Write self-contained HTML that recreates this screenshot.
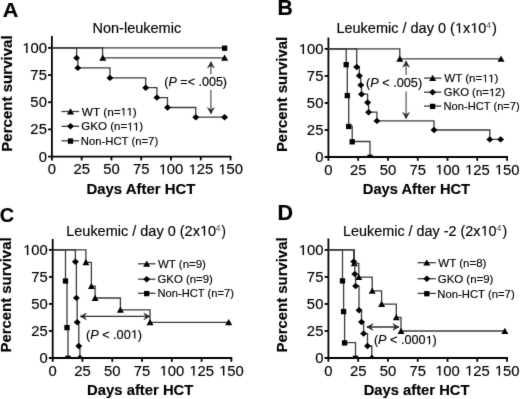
<!DOCTYPE html>
<html><head><meta charset="utf-8"><style>
html,body{margin:0;padding:0;background:#fff;}
body{width:520px;height:399px;overflow:hidden;}
svg{display:block;}
text{font-family:"Liberation Sans", sans-serif;stroke:#000;stroke-width:0.15px;}
.h1{fill-opacity:0;stroke-opacity:0;}
</style></head><body>
<svg width="520" height="399" viewBox="0 0 520 399">
<defs><clipPath id="cp0"><rect x="0" y="0" width="520" height="157.00"/></clipPath><clipPath id="cp1"><rect x="0" y="0" width="520" height="358.00"/></clipPath><clipPath id="cp2"><rect x="0" y="0" width="520" height="358.00"/></clipPath><clipPath id="cp3"><rect x="0" y="0" width="520" height="358.00"/></clipPath><clipPath id="cp4"><rect x="0" y="0" width="520" height="358.00"/></clipPath><filter id="soft" x="0" y="0" width="520" height="399" filterUnits="userSpaceOnUse" color-interpolation-filters="sRGB"><feConvolveMatrix order="3" kernelMatrix="0.01 0.07 0.01 0.07 0.68 0.07 0.01 0.07 0.01" edgeMode="duplicate"/></filter></defs>
<g filter="url(#soft)">
<rect width="520" height="399" fill="#fff"/>
<line x1="51.9" y1="36" x2="51.9" y2="160.4" stroke="#000" stroke-width="1.8"/>
<line x1="48.1" y1="156.6" x2="231.45" y2="156.6" stroke="#000" stroke-width="1.8"/>
<line x1="48.1" y1="129.42" x2="51.9" y2="129.42" stroke="#000" stroke-width="1.8"/>
<line x1="48.1" y1="102.25" x2="51.9" y2="102.25" stroke="#000" stroke-width="1.8"/>
<line x1="48.1" y1="75.08" x2="51.9" y2="75.08" stroke="#000" stroke-width="1.8"/>
<line x1="48.1" y1="47.90" x2="51.9" y2="47.90" stroke="#000" stroke-width="1.8"/>
<line x1="81.67" y1="156.6" x2="81.67" y2="160.4" stroke="#000" stroke-width="1.8"/>
<line x1="111.45" y1="156.6" x2="111.45" y2="160.4" stroke="#000" stroke-width="1.8"/>
<line x1="141.22" y1="156.6" x2="141.22" y2="160.4" stroke="#000" stroke-width="1.8"/>
<line x1="171.00" y1="156.6" x2="171.00" y2="160.4" stroke="#000" stroke-width="1.8"/>
<line x1="200.78" y1="156.6" x2="200.78" y2="160.4" stroke="#000" stroke-width="1.8"/>
<line x1="230.55" y1="156.6" x2="230.55" y2="160.4" stroke="#000" stroke-width="1.8"/>
<text x="46.90" y="161.60" font-size="14" text-anchor="end" textLength="8.25" lengthAdjust="spacingAndGlyphs">0</text>
<text x="46.90" y="134.42" font-size="14" text-anchor="end" textLength="16.51" lengthAdjust="spacingAndGlyphs">25</text>
<text x="46.90" y="107.25" font-size="14" text-anchor="end" textLength="16.51" lengthAdjust="spacingAndGlyphs">50</text>
<text x="46.90" y="80.08" font-size="14" text-anchor="end" textLength="16.51" lengthAdjust="spacingAndGlyphs">75</text>
<text x="46.90" y="52.90" font-size="14" text-anchor="end" textLength="24.76" lengthAdjust="spacingAndGlyphs"><tspan class="h1">1</tspan>00</text>
<text x="51.90" y="174.20" font-size="14" text-anchor="middle" textLength="8.25" lengthAdjust="spacingAndGlyphs">0</text>
<text x="81.67" y="174.20" font-size="14" text-anchor="middle" textLength="16.51" lengthAdjust="spacingAndGlyphs">25</text>
<text x="111.45" y="174.20" font-size="14" text-anchor="middle" textLength="16.51" lengthAdjust="spacingAndGlyphs">50</text>
<text x="141.22" y="174.20" font-size="14" text-anchor="middle" textLength="16.51" lengthAdjust="spacingAndGlyphs">75</text>
<text x="171.00" y="174.20" font-size="14" text-anchor="middle" textLength="24.76" lengthAdjust="spacingAndGlyphs"><tspan class="h1">1</tspan>00</text>
<text x="200.78" y="174.20" font-size="14" text-anchor="middle" textLength="24.76" lengthAdjust="spacingAndGlyphs"><tspan class="h1">1</tspan>25</text>
<text x="230.55" y="174.20" font-size="14" text-anchor="middle" textLength="24.76" lengthAdjust="spacingAndGlyphs"><tspan class="h1">1</tspan>50</text>
<path d="M51.90,47.90 L224.60,47.90" fill="none" stroke="#3c3c3c" stroke-width="1.3" stroke-linejoin="miter"/>
<rect x="221.95" y="45.55" width="5.3" height="5.3" fill="#000"/>
<path d="M51.90,47.90 L102.60,47.90 L102.60,57.80 L224.60,57.80" fill="none" stroke="#3c3c3c" stroke-width="1.3" stroke-linejoin="miter"/>
<path d="M102.80,54.50 L106.30,60.70 L99.30,60.70 Z" fill="#000"/>
<path d="M224.60,54.50 L228.10,60.70 L221.10,60.70 Z" fill="#000"/>
<path d="M51.90,47.90 L76.60,47.90 L76.60,57.90 L77.80,57.90 L77.80,67.90 L109.90,67.90 L109.90,77.90 L145.70,77.90 L145.70,87.70 L156.90,87.70 L156.90,97.60 L167.50,97.60 L167.50,107.50 L195.80,107.50 L195.80,117.20 L224.60,117.20" fill="none" stroke="#3c3c3c" stroke-width="1.3" stroke-linejoin="miter"/>
<path d="M76.60,54.70 L80.10,57.90 L76.60,61.10 L73.10,57.90 Z" fill="#000"/>
<path d="M77.80,64.70 L81.30,67.90 L77.80,71.10 L74.30,67.90 Z" fill="#000"/>
<path d="M109.90,74.70 L113.40,77.90 L109.90,81.10 L106.40,77.90 Z" fill="#000"/>
<path d="M145.70,84.50 L149.20,87.70 L145.70,90.90 L142.20,87.70 Z" fill="#000"/>
<path d="M156.90,94.40 L160.40,97.60 L156.90,100.80 L153.40,97.60 Z" fill="#000"/>
<path d="M167.50,104.30 L171.00,107.50 L167.50,110.70 L164.00,107.50 Z" fill="#000"/>
<path d="M195.80,114.00 L199.30,117.20 L195.80,120.40 L192.30,117.20 Z" fill="#000"/>
<path d="M224.60,114.00 L228.10,117.20 L224.60,120.40 L221.10,117.20 Z" fill="#000"/>
<line x1="210.9" y1="61.7" x2="210.9" y2="74.3" stroke="#555" stroke-width="1.2"/>
<path d="M210.90,61.70 L207.50,67.90 L210.90,65.70 L214.30,67.90 Z" fill="#2a2a2a" stroke="#2a2a2a" stroke-width="0.5" stroke-linejoin="round"/>
<line x1="210.9" y1="113.8" x2="210.9" y2="90" stroke="#555" stroke-width="1.2"/>
<path d="M210.90,113.80 L214.30,107.60 L210.90,109.80 L207.50,107.60 Z" fill="#2a2a2a" stroke="#2a2a2a" stroke-width="0.5" stroke-linejoin="round"/>
<text x="164.32" y="86.40" font-size="12" textLength="62.73" lengthAdjust="spacingAndGlyphs">(<tspan font-style="italic">P</tspan> =&lt; .005)</text>
<line x1="61.5" y1="111.5" x2="79.1" y2="111.5" stroke="#3c3c3c" stroke-width="1.3"/>
<path d="M70.50,108.20 L74.00,114.40 L67.00,114.40 Z" fill="#000"/>
<text x="81.80" y="115.60" font-size="11" textLength="55.00" lengthAdjust="spacingAndGlyphs">WT (n=<tspan class="h1">1</tspan><tspan class="h1">1</tspan>)</text>
<line x1="61.5" y1="126.3" x2="79.1" y2="126.3" stroke="#3c3c3c" stroke-width="1.3"/>
<path d="M70.50,123.10 L74.00,126.30 L70.50,129.50 L67.00,126.30 Z" fill="#000"/>
<text x="81.27" y="130.40" font-size="11" textLength="61.90" lengthAdjust="spacingAndGlyphs">GKO (n=<tspan class="h1">1</tspan><tspan class="h1">1</tspan>)</text>
<line x1="61.5" y1="140.8" x2="79.1" y2="140.8" stroke="#3c3c3c" stroke-width="1.3"/>
<rect x="67.85" y="138.45" width="5.3" height="5.3" fill="#000"/>
<text x="80.77" y="144.90" font-size="11" textLength="77.39" lengthAdjust="spacingAndGlyphs">Non-HCT (n=7)</text>
<text x="92.51" y="32.70" font-size="14" textLength="88.65" lengthAdjust="spacingAndGlyphs">Non-leukemic</text>
<text transform="translate(12.00,151.80) rotate(-90)" x="0" y="0" font-size="15" font-weight="bold" textLength="116.47" lengthAdjust="spacingAndGlyphs">Percent survival</text>
<text x="86.40" y="193.50" font-size="15" font-weight="bold" textLength="109.01" lengthAdjust="spacingAndGlyphs">Days After HCT</text>
<text x="2.89" y="17.20" font-size="21" font-weight="bold" textLength="15.61" lengthAdjust="spacingAndGlyphs">A</text>
<line x1="328.4" y1="37.5" x2="328.4" y2="160.8" stroke="#000" stroke-width="1.8"/>
<line x1="324.59999999999997" y1="157.0" x2="507.95" y2="157.0" stroke="#000" stroke-width="1.8"/>
<line x1="324.59999999999997" y1="129.97" x2="328.4" y2="129.97" stroke="#000" stroke-width="1.8"/>
<line x1="324.59999999999997" y1="102.95" x2="328.4" y2="102.95" stroke="#000" stroke-width="1.8"/>
<line x1="324.59999999999997" y1="75.92" x2="328.4" y2="75.92" stroke="#000" stroke-width="1.8"/>
<line x1="324.59999999999997" y1="48.90" x2="328.4" y2="48.90" stroke="#000" stroke-width="1.8"/>
<line x1="358.17" y1="157.0" x2="358.17" y2="160.8" stroke="#000" stroke-width="1.8"/>
<line x1="387.95" y1="157.0" x2="387.95" y2="160.8" stroke="#000" stroke-width="1.8"/>
<line x1="417.72" y1="157.0" x2="417.72" y2="160.8" stroke="#000" stroke-width="1.8"/>
<line x1="447.50" y1="157.0" x2="447.50" y2="160.8" stroke="#000" stroke-width="1.8"/>
<line x1="477.27" y1="157.0" x2="477.27" y2="160.8" stroke="#000" stroke-width="1.8"/>
<line x1="507.05" y1="157.0" x2="507.05" y2="160.8" stroke="#000" stroke-width="1.8"/>
<text x="323.40" y="162.00" font-size="14" text-anchor="end" textLength="8.25" lengthAdjust="spacingAndGlyphs">0</text>
<text x="323.40" y="134.97" font-size="14" text-anchor="end" textLength="16.51" lengthAdjust="spacingAndGlyphs">25</text>
<text x="323.40" y="107.95" font-size="14" text-anchor="end" textLength="16.51" lengthAdjust="spacingAndGlyphs">50</text>
<text x="323.40" y="80.92" font-size="14" text-anchor="end" textLength="16.51" lengthAdjust="spacingAndGlyphs">75</text>
<text x="323.40" y="53.90" font-size="14" text-anchor="end" textLength="24.76" lengthAdjust="spacingAndGlyphs"><tspan class="h1">1</tspan>00</text>
<text x="328.40" y="174.60" font-size="14" text-anchor="middle" textLength="8.25" lengthAdjust="spacingAndGlyphs">0</text>
<text x="358.17" y="174.60" font-size="14" text-anchor="middle" textLength="16.51" lengthAdjust="spacingAndGlyphs">25</text>
<text x="387.95" y="174.60" font-size="14" text-anchor="middle" textLength="16.51" lengthAdjust="spacingAndGlyphs">50</text>
<text x="417.72" y="174.60" font-size="14" text-anchor="middle" textLength="16.51" lengthAdjust="spacingAndGlyphs">75</text>
<text x="447.50" y="174.60" font-size="14" text-anchor="middle" textLength="24.76" lengthAdjust="spacingAndGlyphs"><tspan class="h1">1</tspan>00</text>
<text x="477.27" y="174.60" font-size="14" text-anchor="middle" textLength="24.76" lengthAdjust="spacingAndGlyphs"><tspan class="h1">1</tspan>25</text>
<text x="507.05" y="174.60" font-size="14" text-anchor="middle" textLength="24.76" lengthAdjust="spacingAndGlyphs"><tspan class="h1">1</tspan>50</text>
<path d="M328.40,48.90 L399.80,48.90 L399.80,58.80 L501.00,58.80" fill="none" stroke="#3c3c3c" stroke-width="1.3" stroke-linejoin="miter"/>
<path d="M399.80,55.50 L403.30,61.70 L396.30,61.70 Z" fill="#000"/>
<path d="M501.00,55.50 L504.50,61.70 L497.50,61.70 Z" fill="#000"/>
<path d="M328.40,48.90 L356.70,48.90 L356.70,67.00 L359.30,67.00 L359.30,75.80 L360.80,75.80 L360.80,85.10 L361.50,85.10 L361.50,94.20 L367.60,94.20 L367.60,102.50 L368.60,102.50 L368.60,112.20 L376.90,112.20 L376.90,120.90 L434.00,120.90 L434.00,130.00 L489.80,130.00 L489.80,139.40 L500.60,139.40" fill="none" stroke="#3c3c3c" stroke-width="1.3" stroke-linejoin="miter"/>
<path d="M356.70,63.80 L360.20,67.00 L356.70,70.20 L353.20,67.00 Z" fill="#000"/>
<path d="M359.30,72.60 L362.80,75.80 L359.30,79.00 L355.80,75.80 Z" fill="#000"/>
<path d="M360.80,81.90 L364.30,85.10 L360.80,88.30 L357.30,85.10 Z" fill="#000"/>
<path d="M361.50,91.00 L365.00,94.20 L361.50,97.40 L358.00,94.20 Z" fill="#000"/>
<path d="M367.60,99.30 L371.10,102.50 L367.60,105.70 L364.10,102.50 Z" fill="#000"/>
<path d="M368.60,109.00 L372.10,112.20 L368.60,115.40 L365.10,112.20 Z" fill="#000"/>
<path d="M376.90,117.70 L380.40,120.90 L376.90,124.10 L373.40,120.90 Z" fill="#000"/>
<path d="M434.00,126.80 L437.50,130.00 L434.00,133.20 L430.50,130.00 Z" fill="#000"/>
<path d="M489.80,136.20 L493.30,139.40 L489.80,142.60 L486.30,139.40 Z" fill="#000"/>
<path d="M500.60,136.20 L504.10,139.40 L500.60,142.60 L497.10,139.40 Z" fill="#000"/>
<path d="M328.40,48.90 L346.20,48.90 L346.20,64.40 L347.30,64.40 L347.30,95.30 L348.70,95.30 L348.70,126.20 L352.20,126.20 L352.20,141.50 L370.00,141.50 L370.00,157.00" fill="none" stroke="#3c3c3c" stroke-width="1.3" stroke-linejoin="miter"/>
<rect x="343.55" y="62.05" width="5.3" height="5.3" fill="#000"/>
<rect x="344.65" y="92.95" width="5.3" height="5.3" fill="#000"/>
<rect x="346.05" y="123.85" width="5.3" height="5.3" fill="#000"/>
<rect x="349.55" y="139.15" width="5.3" height="5.3" fill="#000"/>
<g clip-path="url(#cp0)"><rect x="367.35" y="154.65" width="5.3" height="5.3" fill="#000"/></g>
<line x1="406.1" y1="61.0" x2="406.1" y2="75" stroke="#555" stroke-width="1.2"/>
<path d="M406.10,61.00 L402.70,67.20 L406.10,65.00 L409.50,67.20 Z" fill="#2a2a2a" stroke="#2a2a2a" stroke-width="0.5" stroke-linejoin="round"/>
<line x1="406.1" y1="118.6" x2="406.1" y2="91.5" stroke="#555" stroke-width="1.2"/>
<path d="M406.10,118.60 L409.50,112.40 L406.10,114.60 L402.70,112.40 Z" fill="#2a2a2a" stroke="#2a2a2a" stroke-width="0.5" stroke-linejoin="round"/>
<text x="366.11" y="87.20" font-size="12" textLength="56.03" lengthAdjust="spacingAndGlyphs">(<tspan font-style="italic">P</tspan> &lt; .005)</text>
<line x1="424.0" y1="78.1" x2="441.4" y2="78.1" stroke="#3c3c3c" stroke-width="1.3"/>
<path d="M432.60,74.80 L436.10,81.00 L429.10,81.00 Z" fill="#000"/>
<text x="444.20" y="82.20" font-size="11" textLength="54.09" lengthAdjust="spacingAndGlyphs">WT (n=<tspan class="h1">1</tspan><tspan class="h1">1</tspan>)</text>
<line x1="424.0" y1="92.2" x2="441.4" y2="92.2" stroke="#3c3c3c" stroke-width="1.3"/>
<path d="M432.60,89.00 L436.10,92.20 L432.60,95.40 L429.10,92.20 Z" fill="#000"/>
<text x="443.89" y="96.30" font-size="11" textLength="61.24" lengthAdjust="spacingAndGlyphs">GKO (n=<tspan class="h1">1</tspan>2)</text>
<line x1="424.0" y1="106.1" x2="441.4" y2="106.1" stroke="#3c3c3c" stroke-width="1.3"/>
<rect x="429.95" y="103.75" width="5.3" height="5.3" fill="#000"/>
<text x="443.59" y="110.20" font-size="11" textLength="76.16" lengthAdjust="spacingAndGlyphs">Non-HCT (n=7)</text>
<text x="336.41" y="32.80" font-size="14" textLength="149.91" lengthAdjust="spacingAndGlyphs">Leukemic / day 0 (<tspan class="h1">1</tspan>x<tspan class="h1">1</tspan>0</text>
<text x="486.56" y="28.40" font-size="8.5" style="fill:#666;stroke:#666" textLength="4.46" lengthAdjust="spacingAndGlyphs">4</text>
<text x="492.04" y="32.80" font-size="14" textLength="4.94" lengthAdjust="spacingAndGlyphs">)</text>
<text transform="translate(287.00,152.10) rotate(-90)" x="0" y="0" font-size="15" font-weight="bold" textLength="115.35" lengthAdjust="spacingAndGlyphs">Percent survival</text>
<text x="362.82" y="193.50" font-size="15" font-weight="bold" textLength="107.29" lengthAdjust="spacingAndGlyphs">Days After HCT</text>
<text x="277.51" y="14.70" font-size="21.4" font-weight="bold" textLength="15.33" lengthAdjust="spacingAndGlyphs">B</text>
<line x1="52.7" y1="239" x2="52.7" y2="361.8" stroke="#000" stroke-width="1.8"/>
<line x1="48.900000000000006" y1="358.0" x2="232.25" y2="358.0" stroke="#000" stroke-width="1.8"/>
<line x1="48.900000000000006" y1="330.98" x2="52.7" y2="330.98" stroke="#000" stroke-width="1.8"/>
<line x1="48.900000000000006" y1="303.95" x2="52.7" y2="303.95" stroke="#000" stroke-width="1.8"/>
<line x1="48.900000000000006" y1="276.93" x2="52.7" y2="276.93" stroke="#000" stroke-width="1.8"/>
<line x1="48.900000000000006" y1="249.90" x2="52.7" y2="249.90" stroke="#000" stroke-width="1.8"/>
<line x1="82.48" y1="358.0" x2="82.48" y2="361.8" stroke="#000" stroke-width="1.8"/>
<line x1="112.25" y1="358.0" x2="112.25" y2="361.8" stroke="#000" stroke-width="1.8"/>
<line x1="142.03" y1="358.0" x2="142.03" y2="361.8" stroke="#000" stroke-width="1.8"/>
<line x1="171.80" y1="358.0" x2="171.80" y2="361.8" stroke="#000" stroke-width="1.8"/>
<line x1="201.57" y1="358.0" x2="201.57" y2="361.8" stroke="#000" stroke-width="1.8"/>
<line x1="231.35" y1="358.0" x2="231.35" y2="361.8" stroke="#000" stroke-width="1.8"/>
<text x="47.70" y="363.00" font-size="14" text-anchor="end" textLength="8.25" lengthAdjust="spacingAndGlyphs">0</text>
<text x="47.70" y="335.98" font-size="14" text-anchor="end" textLength="16.51" lengthAdjust="spacingAndGlyphs">25</text>
<text x="47.70" y="308.95" font-size="14" text-anchor="end" textLength="16.51" lengthAdjust="spacingAndGlyphs">50</text>
<text x="47.70" y="281.93" font-size="14" text-anchor="end" textLength="16.51" lengthAdjust="spacingAndGlyphs">75</text>
<text x="47.70" y="254.90" font-size="14" text-anchor="end" textLength="24.76" lengthAdjust="spacingAndGlyphs"><tspan class="h1">1</tspan>00</text>
<text x="52.70" y="375.60" font-size="14" text-anchor="middle" textLength="8.25" lengthAdjust="spacingAndGlyphs">0</text>
<text x="82.48" y="375.60" font-size="14" text-anchor="middle" textLength="16.51" lengthAdjust="spacingAndGlyphs">25</text>
<text x="112.25" y="375.60" font-size="14" text-anchor="middle" textLength="16.51" lengthAdjust="spacingAndGlyphs">50</text>
<text x="142.03" y="375.60" font-size="14" text-anchor="middle" textLength="16.51" lengthAdjust="spacingAndGlyphs">75</text>
<text x="171.80" y="375.60" font-size="14" text-anchor="middle" textLength="24.76" lengthAdjust="spacingAndGlyphs"><tspan class="h1">1</tspan>00</text>
<text x="201.57" y="375.60" font-size="14" text-anchor="middle" textLength="24.76" lengthAdjust="spacingAndGlyphs"><tspan class="h1">1</tspan>25</text>
<text x="231.35" y="375.60" font-size="14" text-anchor="middle" textLength="24.76" lengthAdjust="spacingAndGlyphs"><tspan class="h1">1</tspan>50</text>
<path d="M52.70,249.90 L85.90,249.90 L85.90,262.40 L91.40,262.40 L91.40,286.20 L95.10,286.20 L95.10,298.00 L120.40,298.00 L120.40,309.90 L150.00,309.90 L150.00,322.30 L228.70,322.30" fill="none" stroke="#3c3c3c" stroke-width="1.3" stroke-linejoin="miter"/>
<path d="M85.90,259.10 L89.40,265.30 L82.40,265.30 Z" fill="#000"/>
<path d="M91.40,282.90 L94.90,289.10 L87.90,289.10 Z" fill="#000"/>
<path d="M95.10,294.70 L98.60,300.90 L91.60,300.90 Z" fill="#000"/>
<path d="M120.40,306.60 L123.90,312.80 L116.90,312.80 Z" fill="#000"/>
<path d="M150.00,319.00 L153.50,325.20 L146.50,325.20 Z" fill="#000"/>
<path d="M228.70,319.00 L232.20,325.20 L225.20,325.20 Z" fill="#000"/>
<path d="M52.70,249.90 L75.40,249.90 L75.40,261.80 L76.40,261.80 L76.40,297.90 L77.20,297.90 L77.20,322.20 L78.80,322.20 L78.80,346.00 L79.90,346.00 L79.90,358.00" fill="none" stroke="#3c3c3c" stroke-width="1.3" stroke-linejoin="miter"/>
<path d="M75.40,258.60 L78.90,261.80 L75.40,265.00 L71.90,261.80 Z" fill="#000"/>
<path d="M76.40,294.70 L79.90,297.90 L76.40,301.10 L72.90,297.90 Z" fill="#000"/>
<path d="M77.20,319.00 L80.70,322.20 L77.20,325.40 L73.70,322.20 Z" fill="#000"/>
<path d="M78.80,342.80 L82.30,346.00 L78.80,349.20 L75.30,346.00 Z" fill="#000"/>
<g clip-path="url(#cp1)"><path d="M79.90,354.80 L83.40,358.00 L79.90,361.20 L76.40,358.00 Z" fill="#000"/></g>
<path d="M52.70,249.90 L65.50,249.90 L65.50,280.70 L67.00,280.70 L67.00,327.30 L68.00,327.30 L68.00,358.00" fill="none" stroke="#3c3c3c" stroke-width="1.3" stroke-linejoin="miter"/>
<rect x="62.85" y="278.35" width="5.3" height="5.3" fill="#000"/>
<rect x="64.35" y="324.95" width="5.3" height="5.3" fill="#000"/>
<g clip-path="url(#cp2)"><rect x="65.35" y="355.65" width="5.3" height="5.3" fill="#000"/></g>
<line x1="80.2" y1="316.4" x2="150.0" y2="316.4" stroke="#333" stroke-width="1.4"/>
<path d="M80.20,316.40 L86.40,319.80 L84.20,316.40 L86.40,313.00 Z" fill="#2a2a2a" stroke="#2a2a2a" stroke-width="0.5" stroke-linejoin="round"/>
<path d="M150.00,316.40 L143.80,313.00 L146.00,316.40 L143.80,319.80 Z" fill="#2a2a2a" stroke="#2a2a2a" stroke-width="0.5" stroke-linejoin="round"/>
<text x="85.91" y="338.60" font-size="12" textLength="56.14" lengthAdjust="spacingAndGlyphs">(<tspan font-style="italic">P</tspan> &lt; .00<tspan class="h1">1</tspan>)</text>
<line x1="138.1" y1="263.8" x2="155.5" y2="263.8" stroke="#3c3c3c" stroke-width="1.3"/>
<path d="M146.70,260.50 L150.20,266.70 L143.20,266.70 Z" fill="#000"/>
<text x="158.00" y="267.90" font-size="11" textLength="47.93" lengthAdjust="spacingAndGlyphs">WT (n=9)</text>
<line x1="138.1" y1="279.2" x2="155.5" y2="279.2" stroke="#3c3c3c" stroke-width="1.3"/>
<path d="M146.70,276.00 L150.20,279.20 L146.70,282.40 L143.20,279.20 Z" fill="#000"/>
<text x="157.48" y="283.30" font-size="11" textLength="55.29" lengthAdjust="spacingAndGlyphs">GKO (n=9)</text>
<line x1="138.1" y1="293.3" x2="155.5" y2="293.3" stroke="#3c3c3c" stroke-width="1.3"/>
<rect x="144.05" y="290.95" width="5.3" height="5.3" fill="#000"/>
<text x="157.48" y="297.40" font-size="11" textLength="76.57" lengthAdjust="spacingAndGlyphs">Non-HCT (n=7)</text>
<text x="66.21" y="235.60" font-size="14" textLength="149.81" lengthAdjust="spacingAndGlyphs">Leukemic / day 0 (2x<tspan class="h1">1</tspan>0</text>
<text x="215.75" y="231.20" font-size="8.5" style="fill:#666;stroke:#666" textLength="4.68" lengthAdjust="spacingAndGlyphs">4</text>
<text x="221.56" y="235.60" font-size="14" textLength="4.40" lengthAdjust="spacingAndGlyphs">)</text>
<text transform="translate(11.20,352.49) rotate(-90)" x="0" y="0" font-size="15" font-weight="bold" textLength="115.04" lengthAdjust="spacingAndGlyphs">Percent survival</text>
<text x="87.11" y="394.90" font-size="15" font-weight="bold" textLength="106.28" lengthAdjust="spacingAndGlyphs">Days after HCT</text>
<text x="-0.21" y="222.30" font-size="21" font-weight="bold" textLength="14.34" lengthAdjust="spacingAndGlyphs">C</text>
<line x1="328.4" y1="238.5" x2="328.4" y2="361.8" stroke="#000" stroke-width="1.8"/>
<line x1="324.59999999999997" y1="358.0" x2="507.95" y2="358.0" stroke="#000" stroke-width="1.8"/>
<line x1="324.59999999999997" y1="330.98" x2="328.4" y2="330.98" stroke="#000" stroke-width="1.8"/>
<line x1="324.59999999999997" y1="303.95" x2="328.4" y2="303.95" stroke="#000" stroke-width="1.8"/>
<line x1="324.59999999999997" y1="276.93" x2="328.4" y2="276.93" stroke="#000" stroke-width="1.8"/>
<line x1="324.59999999999997" y1="249.90" x2="328.4" y2="249.90" stroke="#000" stroke-width="1.8"/>
<line x1="358.17" y1="358.0" x2="358.17" y2="361.8" stroke="#000" stroke-width="1.8"/>
<line x1="387.95" y1="358.0" x2="387.95" y2="361.8" stroke="#000" stroke-width="1.8"/>
<line x1="417.72" y1="358.0" x2="417.72" y2="361.8" stroke="#000" stroke-width="1.8"/>
<line x1="447.50" y1="358.0" x2="447.50" y2="361.8" stroke="#000" stroke-width="1.8"/>
<line x1="477.27" y1="358.0" x2="477.27" y2="361.8" stroke="#000" stroke-width="1.8"/>
<line x1="507.05" y1="358.0" x2="507.05" y2="361.8" stroke="#000" stroke-width="1.8"/>
<text x="323.40" y="363.00" font-size="14" text-anchor="end" textLength="8.25" lengthAdjust="spacingAndGlyphs">0</text>
<text x="323.40" y="335.98" font-size="14" text-anchor="end" textLength="16.51" lengthAdjust="spacingAndGlyphs">25</text>
<text x="323.40" y="308.95" font-size="14" text-anchor="end" textLength="16.51" lengthAdjust="spacingAndGlyphs">50</text>
<text x="323.40" y="281.93" font-size="14" text-anchor="end" textLength="16.51" lengthAdjust="spacingAndGlyphs">75</text>
<text x="323.40" y="254.90" font-size="14" text-anchor="end" textLength="24.76" lengthAdjust="spacingAndGlyphs"><tspan class="h1">1</tspan>00</text>
<text x="328.40" y="375.60" font-size="14" text-anchor="middle" textLength="8.25" lengthAdjust="spacingAndGlyphs">0</text>
<text x="358.17" y="375.60" font-size="14" text-anchor="middle" textLength="16.51" lengthAdjust="spacingAndGlyphs">25</text>
<text x="387.95" y="375.60" font-size="14" text-anchor="middle" textLength="16.51" lengthAdjust="spacingAndGlyphs">50</text>
<text x="417.72" y="375.60" font-size="14" text-anchor="middle" textLength="16.51" lengthAdjust="spacingAndGlyphs">75</text>
<text x="447.50" y="375.60" font-size="14" text-anchor="middle" textLength="24.76" lengthAdjust="spacingAndGlyphs"><tspan class="h1">1</tspan>00</text>
<text x="477.27" y="375.60" font-size="14" text-anchor="middle" textLength="24.76" lengthAdjust="spacingAndGlyphs"><tspan class="h1">1</tspan>25</text>
<text x="507.05" y="375.60" font-size="14" text-anchor="middle" textLength="24.76" lengthAdjust="spacingAndGlyphs"><tspan class="h1">1</tspan>50</text>
<path d="M328.40,249.90 L354.30,249.90 L354.30,263.30 L358.80,263.30 L358.80,277.20 L372.20,277.20 L372.20,290.80 L381.60,290.80 L381.60,304.10 L396.30,304.10 L396.30,317.40 L401.00,317.40 L401.00,331.00 L504.80,331.00" fill="none" stroke="#3c3c3c" stroke-width="1.3" stroke-linejoin="miter"/>
<path d="M354.30,260.00 L357.80,266.20 L350.80,266.20 Z" fill="#000"/>
<path d="M358.80,273.90 L362.30,280.10 L355.30,280.10 Z" fill="#000"/>
<path d="M372.20,287.50 L375.70,293.70 L368.70,293.70 Z" fill="#000"/>
<path d="M381.60,300.80 L385.10,307.00 L378.10,307.00 Z" fill="#000"/>
<path d="M396.30,314.10 L399.80,320.30 L392.80,320.30 Z" fill="#000"/>
<path d="M401.00,327.70 L404.50,333.90 L397.50,333.90 Z" fill="#000"/>
<path d="M504.80,327.70 L508.30,333.90 L501.30,333.90 Z" fill="#000"/>
<path d="M328.40,249.90 L353.70,249.90 L353.70,261.60 L354.80,261.60 L354.80,274.10 L355.60,274.10 L355.60,286.00 L359.00,286.00 L359.00,310.20 L361.50,310.20 L361.50,322.00 L363.60,322.00 L363.60,333.60 L367.50,333.60 L367.50,346.00 L371.80,346.00 L371.80,358.00" fill="none" stroke="#3c3c3c" stroke-width="1.3" stroke-linejoin="miter"/>
<path d="M353.70,258.40 L357.20,261.60 L353.70,264.80 L350.20,261.60 Z" fill="#000"/>
<path d="M354.80,270.90 L358.30,274.10 L354.80,277.30 L351.30,274.10 Z" fill="#000"/>
<path d="M355.60,282.80 L359.10,286.00 L355.60,289.20 L352.10,286.00 Z" fill="#000"/>
<path d="M359.00,307.00 L362.50,310.20 L359.00,313.40 L355.50,310.20 Z" fill="#000"/>
<path d="M361.50,318.80 L365.00,322.00 L361.50,325.20 L358.00,322.00 Z" fill="#000"/>
<path d="M363.60,330.40 L367.10,333.60 L363.60,336.80 L360.10,333.60 Z" fill="#000"/>
<path d="M367.50,342.80 L371.00,346.00 L367.50,349.20 L364.00,346.00 Z" fill="#000"/>
<g clip-path="url(#cp3)"><path d="M371.80,354.80 L375.30,358.00 L371.80,361.20 L368.30,358.00 Z" fill="#000"/></g>
<path d="M328.40,249.90 L342.50,249.90 L342.50,280.60 L343.60,280.60 L343.60,311.30 L344.60,311.30 L344.60,342.60 L355.50,342.60 L355.50,358.00" fill="none" stroke="#3c3c3c" stroke-width="1.3" stroke-linejoin="miter"/>
<rect x="339.85" y="278.25" width="5.3" height="5.3" fill="#000"/>
<rect x="340.95" y="308.95" width="5.3" height="5.3" fill="#000"/>
<rect x="341.95" y="340.25" width="5.3" height="5.3" fill="#000"/>
<g clip-path="url(#cp4)"><rect x="352.85" y="355.65" width="5.3" height="5.3" fill="#000"/></g>
<line x1="366.8" y1="327.0" x2="399.0" y2="327.0" stroke="#333" stroke-width="1.4"/>
<path d="M366.80,327.00 L373.00,330.40 L370.80,327.00 L373.00,323.60 Z" fill="#2a2a2a" stroke="#2a2a2a" stroke-width="0.5" stroke-linejoin="round"/>
<path d="M399.00,327.00 L392.80,323.60 L395.00,327.00 L392.80,330.40 Z" fill="#2a2a2a" stroke="#2a2a2a" stroke-width="0.5" stroke-linejoin="round"/>
<text x="373.91" y="344.30" font-size="12" textLength="62.85" lengthAdjust="spacingAndGlyphs">(<tspan font-style="italic">P</tspan> &lt; .000<tspan class="h1">1</tspan>)</text>
<line x1="417.6" y1="262.7" x2="435.8" y2="262.7" stroke="#3c3c3c" stroke-width="1.3"/>
<path d="M426.80,259.40 L430.30,265.60 L423.30,265.60 Z" fill="#000"/>
<text x="438.30" y="266.80" font-size="11" textLength="48.14" lengthAdjust="spacingAndGlyphs">WT (n=8)</text>
<line x1="417.6" y1="278.7" x2="435.8" y2="278.7" stroke="#3c3c3c" stroke-width="1.3"/>
<path d="M426.80,275.50 L430.30,278.70 L426.80,281.90 L423.30,278.70 Z" fill="#000"/>
<text x="437.78" y="282.80" font-size="11" textLength="55.60" lengthAdjust="spacingAndGlyphs">GKO (n=9)</text>
<line x1="417.6" y1="293.4" x2="435.8" y2="293.4" stroke="#3c3c3c" stroke-width="1.3"/>
<rect x="424.15" y="291.05" width="5.3" height="5.3" fill="#000"/>
<text x="437.27" y="297.50" font-size="11" textLength="77.39" lengthAdjust="spacingAndGlyphs">Non-HCT (n=7)</text>
<text x="343.12" y="235.60" font-size="14" textLength="153.36" lengthAdjust="spacingAndGlyphs">Leukemic / day -2 (2x<tspan class="h1">1</tspan>0</text>
<text x="496.64" y="231.20" font-size="8.5" style="fill:#666;stroke:#666" textLength="4.90" lengthAdjust="spacingAndGlyphs">4</text>
<text x="502.45" y="235.60" font-size="14" textLength="4.67" lengthAdjust="spacingAndGlyphs">)</text>
<text transform="translate(287.00,352.49) rotate(-90)" x="0" y="0" font-size="15" font-weight="bold" textLength="115.04" lengthAdjust="spacingAndGlyphs">Percent survival</text>
<text x="363.72" y="394.60" font-size="15" font-weight="bold" textLength="105.78" lengthAdjust="spacingAndGlyphs">Days after HCT</text>
<text x="277.59" y="220.30" font-size="21.4" font-weight="bold" textLength="15.57" lengthAdjust="spacingAndGlyphs">D</text>
<g id="ones"><path transform="translate(22.140,52.900) scale(0.007251,-0.006836)" d="M555,0 L555,1237 L237,1010 L237,1180 L570,1409 L736,1409 L736,0 Z" fill="#000" stroke="#000" stroke-width="0.15" vector-effect="non-scaling-stroke"/><path transform="translate(158.620,174.200) scale(0.007251,-0.006836)" d="M555,0 L555,1237 L237,1010 L237,1180 L570,1409 L736,1409 L736,0 Z" fill="#000" stroke="#000" stroke-width="0.15" vector-effect="non-scaling-stroke"/><path transform="translate(188.400,174.200) scale(0.007251,-0.006836)" d="M555,0 L555,1237 L237,1010 L237,1180 L570,1409 L736,1409 L736,0 Z" fill="#000" stroke="#000" stroke-width="0.15" vector-effect="non-scaling-stroke"/><path transform="translate(218.170,174.200) scale(0.007251,-0.006836)" d="M555,0 L555,1237 L237,1010 L237,1180 L570,1409 L736,1409 L736,0 Z" fill="#000" stroke="#000" stroke-width="0.15" vector-effect="non-scaling-stroke"/><path transform="translate(120.595,115.600) scale(0.005002,-0.005371)" d="M555,0 L555,1237 L237,1010 L237,1180 L570,1409 L736,1409 L736,0 Z" fill="#000" stroke="#000" stroke-width="0.15" vector-effect="non-scaling-stroke"/><path transform="translate(126.293,115.600) scale(0.005767,-0.005371)" d="M555,0 L555,1237 L237,1010 L237,1180 L570,1409 L736,1409 L736,0 Z" fill="#000" stroke="#000" stroke-width="0.15" vector-effect="non-scaling-stroke"/><path transform="translate(127.272,130.400) scale(0.004908,-0.005371)" d="M555,0 L555,1237 L237,1010 L237,1180 L570,1409 L736,1409 L736,0 Z" fill="#000" stroke="#000" stroke-width="0.15" vector-effect="non-scaling-stroke"/><path transform="translate(132.862,130.400) scale(0.005658,-0.005371)" d="M555,0 L555,1237 L237,1010 L237,1180 L570,1409 L736,1409 L736,0 Z" fill="#000" stroke="#000" stroke-width="0.15" vector-effect="non-scaling-stroke"/><path transform="translate(298.640,53.900) scale(0.007251,-0.006836)" d="M555,0 L555,1237 L237,1010 L237,1180 L570,1409 L736,1409 L736,0 Z" fill="#000" stroke="#000" stroke-width="0.15" vector-effect="non-scaling-stroke"/><path transform="translate(435.120,174.600) scale(0.007251,-0.006836)" d="M555,0 L555,1237 L237,1010 L237,1180 L570,1409 L736,1409 L736,0 Z" fill="#000" stroke="#000" stroke-width="0.15" vector-effect="non-scaling-stroke"/><path transform="translate(464.890,174.600) scale(0.007251,-0.006836)" d="M555,0 L555,1237 L237,1010 L237,1180 L570,1409 L736,1409 L736,0 Z" fill="#000" stroke="#000" stroke-width="0.15" vector-effect="non-scaling-stroke"/><path transform="translate(494.670,174.600) scale(0.007251,-0.006836)" d="M555,0 L555,1237 L237,1010 L237,1180 L570,1409 L736,1409 L736,0 Z" fill="#000" stroke="#000" stroke-width="0.15" vector-effect="non-scaling-stroke"/><path transform="translate(482.353,82.200) scale(0.004920,-0.005371)" d="M555,0 L555,1237 L237,1010 L237,1180 L570,1409 L736,1409 L736,0 Z" fill="#000" stroke="#000" stroke-width="0.15" vector-effect="non-scaling-stroke"/><path transform="translate(487.957,82.200) scale(0.005672,-0.005371)" d="M555,0 L555,1237 L237,1010 L237,1180 L570,1409 L736,1409 L736,0 Z" fill="#000" stroke="#000" stroke-width="0.15" vector-effect="non-scaling-stroke"/><path transform="translate(488.793,96.300) scale(0.005523,-0.005371)" d="M555,0 L555,1237 L237,1010 L237,1180 L570,1409 L736,1409 L736,0 Z" fill="#000" stroke="#000" stroke-width="0.15" vector-effect="non-scaling-stroke"/><path transform="translate(454.853,32.800) scale(0.007088,-0.006836)" d="M555,0 L555,1237 L237,1010 L237,1180 L570,1409 L736,1409 L736,0 Z" fill="#000" stroke="#000" stroke-width="0.15" vector-effect="non-scaling-stroke"/><path transform="translate(470.174,32.800) scale(0.007088,-0.006836)" d="M555,0 L555,1237 L237,1010 L237,1180 L570,1409 L736,1409 L736,0 Z" fill="#000" stroke="#000" stroke-width="0.15" vector-effect="non-scaling-stroke"/><path transform="translate(22.940,254.900) scale(0.007251,-0.006836)" d="M555,0 L555,1237 L237,1010 L237,1180 L570,1409 L736,1409 L736,0 Z" fill="#000" stroke="#000" stroke-width="0.15" vector-effect="non-scaling-stroke"/><path transform="translate(159.420,375.600) scale(0.007251,-0.006836)" d="M555,0 L555,1237 L237,1010 L237,1180 L570,1409 L736,1409 L736,0 Z" fill="#000" stroke="#000" stroke-width="0.15" vector-effect="non-scaling-stroke"/><path transform="translate(189.190,375.600) scale(0.007251,-0.006836)" d="M555,0 L555,1237 L237,1010 L237,1180 L570,1409 L736,1409 L736,0 Z" fill="#000" stroke="#000" stroke-width="0.15" vector-effect="non-scaling-stroke"/><path transform="translate(218.970,375.600) scale(0.007251,-0.006836)" d="M555,0 L555,1237 L237,1010 L237,1180 L570,1409 L736,1409 L736,0 Z" fill="#000" stroke="#000" stroke-width="0.15" vector-effect="non-scaling-stroke"/><path transform="translate(130.743,338.600) scale(0.006212,-0.005859)" d="M555,0 L555,1237 L237,1010 L237,1180 L570,1409 L736,1409 L736,0 Z" fill="#000" stroke="#000" stroke-width="0.15" vector-effect="non-scaling-stroke"/><path transform="translate(199.883,235.600) scale(0.007070,-0.006836)" d="M555,0 L555,1237 L237,1010 L237,1180 L570,1409 L736,1409 L736,0 Z" fill="#000" stroke="#000" stroke-width="0.15" vector-effect="non-scaling-stroke"/><path transform="translate(298.640,254.900) scale(0.007251,-0.006836)" d="M555,0 L555,1237 L237,1010 L237,1180 L570,1409 L736,1409 L736,0 Z" fill="#000" stroke="#000" stroke-width="0.15" vector-effect="non-scaling-stroke"/><path transform="translate(435.120,375.600) scale(0.007251,-0.006836)" d="M555,0 L555,1237 L237,1010 L237,1180 L570,1409 L736,1409 L736,0 Z" fill="#000" stroke="#000" stroke-width="0.15" vector-effect="non-scaling-stroke"/><path transform="translate(464.890,375.600) scale(0.007251,-0.006836)" d="M555,0 L555,1237 L237,1010 L237,1180 L570,1409 L736,1409 L736,0 Z" fill="#000" stroke="#000" stroke-width="0.15" vector-effect="non-scaling-stroke"/><path transform="translate(494.670,375.600) scale(0.007251,-0.006836)" d="M555,0 L555,1237 L237,1010 L237,1180 L570,1409 L736,1409 L736,0 Z" fill="#000" stroke="#000" stroke-width="0.15" vector-effect="non-scaling-stroke"/><path transform="translate(425.515,344.300) scale(0.006178,-0.005859)" d="M555,0 L555,1237 L237,1010 L237,1180 L570,1409 L736,1409 L736,0 Z" fill="#000" stroke="#000" stroke-width="0.15" vector-effect="non-scaling-stroke"/><path transform="translate(480.477,235.600) scale(0.007011,-0.006836)" d="M555,0 L555,1237 L237,1010 L237,1180 L570,1409 L736,1409 L736,0 Z" fill="#000" stroke="#000" stroke-width="0.15" vector-effect="non-scaling-stroke"/></g>
</g>
</svg>
</body></html>
